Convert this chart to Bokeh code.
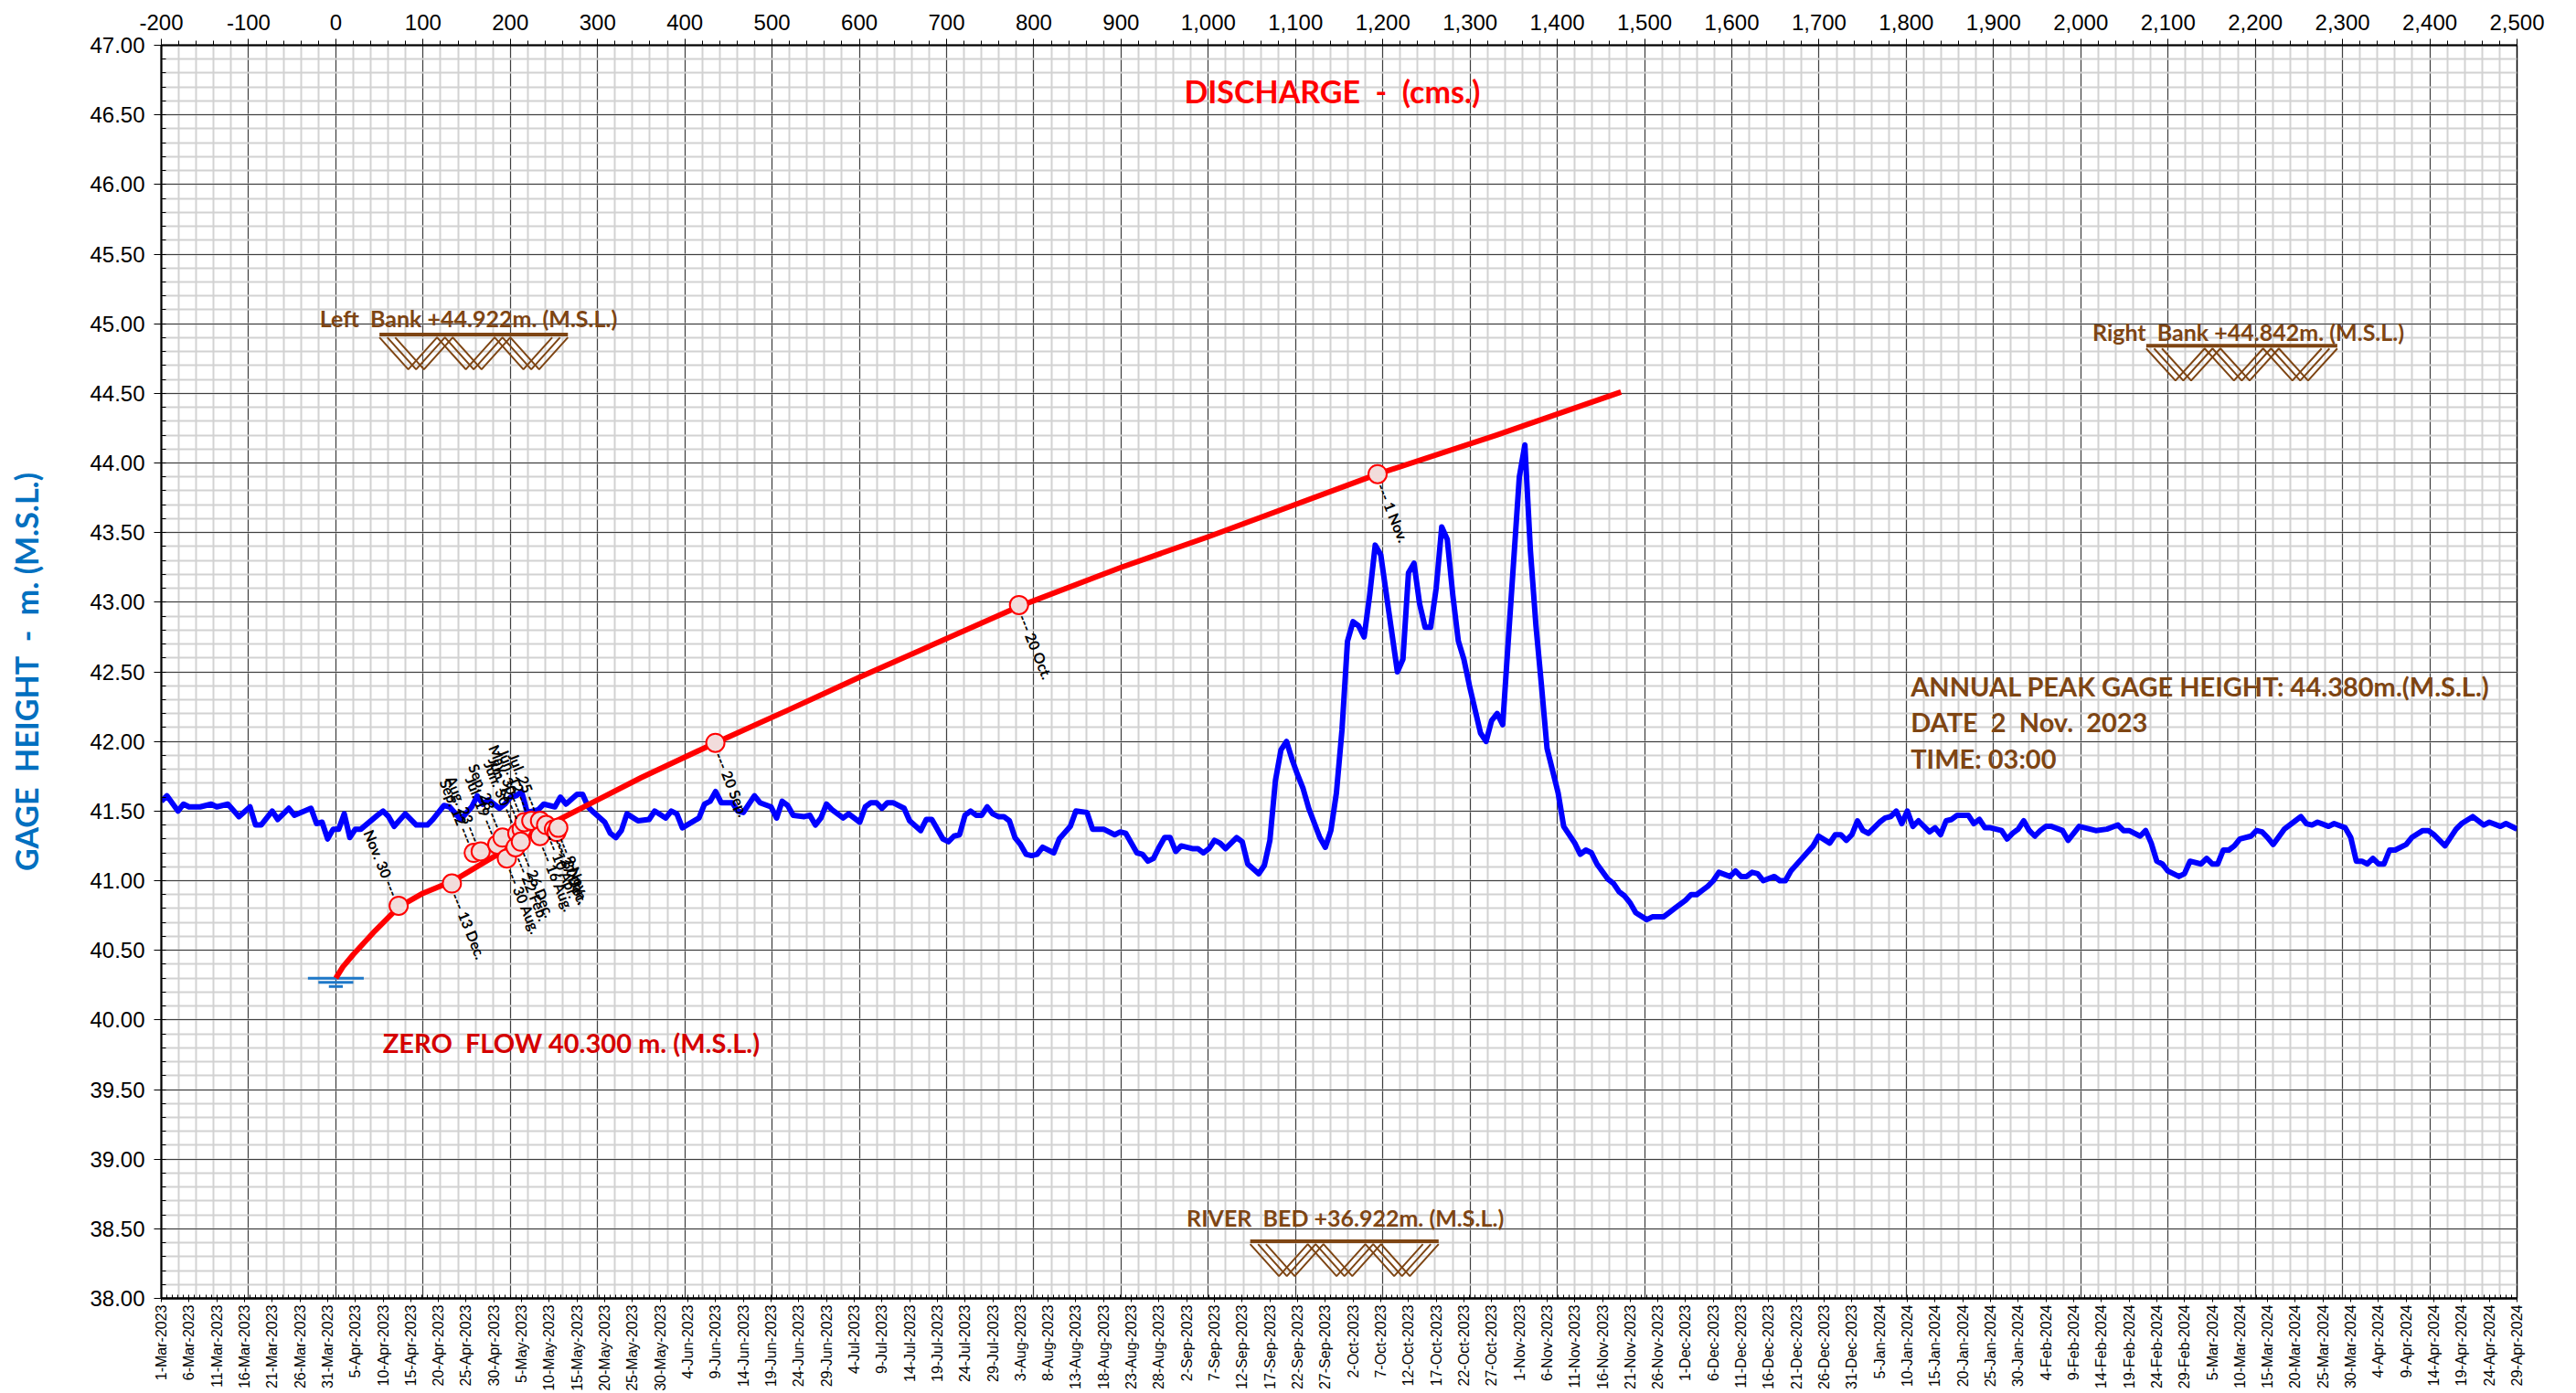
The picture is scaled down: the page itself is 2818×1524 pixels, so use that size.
import numpy as np
import pandas as pd
from bokeh.plotting import figure
from bokeh.models import (Range1d, LinearAxis, FixedTicker, NumeralTickFormatter,
                          PrintfTickFormatter, Label)
from bokeh.core.properties import value
from bokeh.embed import file_html
from bokeh.resources import INLINE

# ---------------- data ----------------
START_DATE = "2023-03-01"
N_DAYS = 425

# daily gage height (day offset from 1-Mar-2023, m M.S.L.)
gage_day = [0, 1, 3, 4, 5, 7, 9, 10, 12, 14, 16, 17, 18, 20, 21, 23, 24, 27, 28, 29, 30, 31, 32, 33, 34, 35, 36,
            39, 40, 41, 42, 44, 46, 48, 49, 51, 52, 54, 56, 57, 58, 59, 60, 61, 62, 63, 64, 65, 66, 68, 69, 71,
            72, 73, 75, 76, 77, 78, 80, 81, 82, 83, 84, 86, 88, 89, 91, 92, 93, 94, 97, 98, 99, 100, 101, 103,
            104, 105, 107, 108, 110, 111, 112, 113, 114, 116, 117, 118, 119, 120, 121, 123, 124, 126, 127, 128,
            129, 130, 131, 132, 134, 135, 137, 138, 139, 141, 142, 143, 144, 145, 146, 147, 148, 149, 150, 151,
            152, 153, 154, 155, 156, 157, 158, 159, 161, 162, 164, 165, 167, 168, 170, 172, 173, 174, 176, 177,
            178, 179, 180, 181, 182, 183, 184, 186, 187, 188, 189, 190, 191, 192, 194, 195, 196, 198, 199, 200,
            201, 202, 203, 204, 205, 206, 207, 209, 210, 211, 212, 213, 214, 215, 216, 217, 218, 219, 220, 223,
            224, 225, 226, 227, 228, 229, 230, 231, 232, 233, 234, 235, 236, 238, 239, 240, 241, 242, 243, 245,
            246, 247, 248, 249, 250, 252, 253, 255, 256, 257, 258, 259, 261, 262, 263, 264, 265, 266, 268, 269,
            271, 272, 273, 275, 276, 277, 278, 279, 280, 281, 283, 284, 285, 286, 287, 288, 289, 291, 292, 293,
            294, 296, 298, 299, 301, 302, 303, 304, 305, 306, 307, 308, 310, 311, 312, 313, 314, 315, 316, 317,
            319, 320, 321, 322, 323, 324, 325, 326, 327, 328, 329, 330, 332, 333, 334, 335, 336, 337, 338, 339,
            340, 341, 343, 344, 346, 348, 349, 351, 353, 354, 355, 357, 358, 359, 360, 361, 362, 364, 365, 366,
            368, 369, 370, 371, 372, 373, 374, 375, 377, 378, 379, 380, 381, 383, 385, 386, 387, 388, 389, 391,
            392, 394, 395, 396, 397, 398, 399, 400, 401, 402, 403, 405, 406, 408, 409, 410, 412, 414, 415, 417,
            419, 420, 422, 423, 425]
gage_h = [41.57, 41.61, 41.50, 41.55, 41.53, 41.53, 41.55, 41.53, 41.55, 41.46, 41.53, 41.40, 41.40, 41.50, 41.44,
          41.52, 41.47, 41.52, 41.41, 41.42, 41.30, 41.37, 41.37, 41.48, 41.31, 41.37, 41.37, 41.47, 41.50, 41.46,
          41.39, 41.48, 41.40, 41.40, 41.44, 41.54, 41.53, 41.44, 41.53, 41.61, 41.55, 41.58, 41.55, 41.52, 41.55,
          41.60, 41.61, 41.64, 41.49, 41.51, 41.55, 41.53, 41.60, 41.55, 41.62, 41.62, 41.53, 41.49, 41.42, 41.34,
          41.31, 41.36, 41.48, 41.43, 41.44, 41.50, 41.45, 41.50, 41.48, 41.38, 41.45, 41.55, 41.57, 41.64, 41.56,
          41.56, 41.50, 41.49, 41.61, 41.56, 41.53, 41.45, 41.57, 41.54, 41.47, 41.46, 41.47, 41.40, 41.45, 41.55,
          41.51, 41.45, 41.48, 41.42, 41.53, 41.56, 41.56, 41.52, 41.56, 41.56, 41.52, 41.43, 41.36, 41.44, 41.44,
          41.30, 41.28, 41.32, 41.33, 41.47, 41.50, 41.47, 41.47, 41.53, 41.48, 41.46, 41.46, 41.43, 41.31, 41.26,
          41.19, 41.18, 41.19, 41.24, 41.20, 41.30, 41.39, 41.50, 41.49, 41.37, 41.37, 41.33, 41.35, 41.34, 41.20,
          41.19, 41.14, 41.16, 41.24, 41.31, 41.31, 41.21, 41.25, 41.23, 41.23, 41.20, 41.23, 41.29, 41.27, 41.23,
          41.31, 41.28, 41.12, 41.05, 41.11, 41.29, 41.72, 41.94, 42.00, 41.87, 41.76, 41.66, 41.52, 41.31, 41.24,
          41.36, 41.63, 42.08, 42.72, 42.86, 42.83, 42.75, 43.05, 43.41, 43.34, 42.50, 42.59, 43.21, 43.28, 42.99,
          42.82, 42.82, 43.10, 43.54, 43.45, 43.05, 42.72, 42.59, 42.40, 42.06, 42.00, 42.15, 42.20, 42.12, 42.72,
          43.90, 44.13, 43.37, 42.83, 42.40, 41.95, 41.63, 41.39, 41.27, 41.19, 41.22, 41.20, 41.12, 41.01, 40.98,
          40.92, 40.89, 40.84, 40.77, 40.72, 40.74, 40.74, 40.77, 40.80, 40.86, 40.90, 40.90, 40.93, 40.96, 41.00,
          41.06, 41.03, 41.07, 41.03, 41.03, 41.06, 41.05, 41.00, 41.03, 41.00, 41.00, 41.07, 41.16, 41.25, 41.32,
          41.27, 41.33, 41.33, 41.29, 41.33, 41.43, 41.36, 41.34, 41.42, 41.45, 41.46, 41.50, 41.41, 41.50, 41.39,
          41.43, 41.35, 41.38, 41.33, 41.43, 41.44, 41.47, 41.47, 41.47, 41.41, 41.44, 41.38, 41.38, 41.36, 41.30,
          41.34, 41.37, 41.43, 41.36, 41.32, 41.36, 41.39, 41.39, 41.36, 41.29, 41.39, 41.37, 41.36, 41.37, 41.40,
          41.36, 41.36, 41.32, 41.36, 41.27, 41.14, 41.12, 41.07, 41.03, 41.05, 41.14, 41.12, 41.16, 41.12, 41.12,
          41.22, 41.22, 41.25, 41.30, 41.32, 41.36, 41.35, 41.31, 41.26, 41.37, 41.43, 41.46, 41.41, 41.40, 41.42,
          41.39, 41.41, 41.38, 41.31, 41.14, 41.14, 41.12, 41.16, 41.12, 41.12, 41.22, 41.22, 41.26, 41.31, 41.36,
          41.36, 41.33, 41.25, 41.37, 41.41, 41.46, 41.40, 41.42, 41.39, 41.41, 41.37]

# stage-discharge rating curve (cms, m)
rating_q = [0, 8, 20, 45, 72, 100, 135, 175, 250, 300, 350, 435, 520, 600, 783, 900, 1000, 1194, 1330, 1473]
rating_h = [40.30, 40.38, 40.47, 40.64, 40.81, 40.91, 41.00, 41.15, 41.42, 41.58, 41.74, 41.99, 42.23, 42.46,
            42.97, 43.25, 43.47, 43.92, 44.20, 44.51]

# discharge measurements
meas_q = [72, 133, 158, 166, 185, 191, 208, 213, 216, 224, 234, 196, 206, 212, 234, 241, 250, 253, 255, 435,
          783, 1194]
meas_h = [40.82, 40.98, 41.20, 41.21, 41.26, 41.31, 41.34, 41.37, 41.42, 41.43, 41.43, 41.16, 41.24, 41.28,
          41.32, 41.40, 41.37, 41.35, 41.38, 41.99, 42.98, 43.92]
meas_label = ["Nov. 30", "13 Dec.", "Sep. 12", "Aug. 23", "Jul. 19", "Sep. 28", "Jun. 30", "Jun. 13", "May. 30",
              "Jun. 12", "Jul. 25", "30 Aug.", "22 Feb.", "26 Dec.", "16 Aug.", "10 Apr.", "27 Dec.", "30 Jan.",
              "9 Nov.", "20 Sep.", "20 Oct.", "1 Nov."]
meas_side = ["L", "R", "L", "L", "L", "L", "L", "L", "L", "L", "L", "R", "R", "R", "R", "R", "R", "R", "R", "R",
             "R", "R"]

ZERO_FLOW = 40.300
LEFT_BANK = 44.922
RIGHT_BANK = 44.842
RIVER_BED = 36.922

discharge_ticks = list(range(-200, 2501, 100))
gage_ticks = [round(38 + 0.5 * i, 2) for i in range(19)]

NB = "\u00a0"  # keeps the double spaces of the original texts


def sp(s):
    return s.replace("  ", NB + NB)


# ---------------- figure ----------------
BROWN = "#7E4513"
p = figure(width=2818, height=1524, x_range=Range1d(-200, 2500), y_range=Range1d(38, 47),
           x_axis_location="above", output_backend="svg", toolbar_location=None,
           min_border_left=176, min_border_right=65, min_border_top=49, min_border_bottom=103,
           background_fill_color="white", border_fill_color="white",
           outline_line_color="black", outline_line_width=1.5)
p.extra_x_ranges = {"days": Range1d(0, N_DAYS)}

xa = p.xaxis[0]
xa.ticker = FixedTicker(ticks=discharge_ticks, minor_ticks=list(range(-200, 2501, 20)))
xa.formatter = NumeralTickFormatter(format="0,0")
xa.major_label_text_font = "Liberation Sans"
xa.major_label_text_font_size = "24px"
xa.major_label_text_color = "black"
xa.major_tick_out = 7
xa.major_tick_in = 0
xa.minor_tick_out = 5
xa.minor_tick_in = 0
xa.major_label_standoff = 10
xa.axis_line_width = 2
xa.major_tick_line_color = "black"
xa.minor_tick_line_color = "black"

ya = p.yaxis[0]
ya.ticker = FixedTicker(ticks=gage_ticks, minor_ticks=[round(38 + 0.1 * i, 1) for i in range(91)])
ya.formatter = PrintfTickFormatter(format="%.2f")
ya.major_label_text_font = "Liberation Sans"
ya.major_label_text_font_size = "24px"
ya.major_label_text_color = "black"
ya.major_tick_out = 8
ya.major_tick_in = 0
ya.minor_tick_out = 0
ya.minor_tick_in = 5
ya.major_label_standoff = 10
ya.axis_line_width = 2
ya.axis_label = sp("GAGE  HEIGHT  -  m. (M.S.L.)")
ya.axis_label_text_font = "Lato"
ya.axis_label_text_font_style = "bold"
ya.axis_label_text_font_size = "34px"
ya.axis_label_text_color = "#0070C0"
ya.axis_label_standoff = 46

for g in (p.xgrid[0], p.ygrid[0]):
    g.grid_line_color = "#404040"
    g.grid_line_width = 1
    g.minor_grid_line_color = "#d2d2d2"
    g.minor_grid_line_width = 2

dates = pd.date_range(START_DATE, periods=N_DAYS // 5 + 1, freq="5D")
date_labels = {int(5 * i): d.strftime("%-d-%b-%Y") for i, d in enumerate(dates)}
da = LinearAxis(x_range_name="days",
                ticker=FixedTicker(ticks=list(date_labels.keys()), minor_ticks=list(range(0, N_DAYS + 1))),
                major_label_overrides=date_labels, major_label_orientation=np.pi / 2)
da.major_label_text_font = "Liberation Sans"
da.major_label_text_font_size = "16px"
da.major_label_text_color = "black"
da.major_tick_out = 4
da.major_tick_in = 0
da.minor_tick_in = 4
da.minor_tick_out = 0
da.major_label_standoff = 3
da.axis_line_width = 2.5
p.add_layout(da, "below")


# ---------------- decorations: bank / bed symbols ----------------
def bank_symbol(x0, x1, y0, depth, copies=3, shift=9):
    bars = ([x0, x1], [y0, y0])
    d = (x1 - x0 - (copies - 1) * shift) / 3.0
    xs, ys = [], []
    for c in range(copies):
        xx = [x0 + c * shift + k * d / 2.0 for k in range(7)]
        yy = [y0 - 0.02 if k % 2 == 0 else y0 - depth for k in range(7)]
        xs.append(xx)
        ys.append(yy)
    return bars, xs, ys


for (x0, x1, y0) in [(50, 266, LEFT_BANK), (2075, 2294, RIGHT_BANK), (1048, 1264, 38.41)]:
    bar, xs, ys = bank_symbol(x0, x1, y0, 0.25)
    p.line(bar[0], bar[1], line_color=BROWN, line_width=4)
    p.multi_line(xs, ys, line_color=BROWN, line_width=2)

# zero-flow water symbol
p.line([-32, 32], [ZERO_FLOW, ZERO_FLOW], line_color="#1E78C8", line_width=3)
p.line([-20, 20], [ZERO_FLOW - 0.03, ZERO_FLOW - 0.03], line_color="#1E78C8", line_width=3)
p.line([-8, 8], [ZERO_FLOW - 0.06, ZERO_FLOW - 0.06], line_color="#1E78C8", line_width=3)

# ---------------- series ----------------
p.line(gage_day, gage_h, x_range_name="days", line_color="#0000FF", line_width=6, line_join="round")
p.line(rating_q, rating_h, line_color="#FF0000", line_width=6, line_join="round")
p.scatter(meas_q, meas_h, size=20, fill_color="#F2DCDB", line_color="#FF0000", line_width=2)

ang = -np.deg2rad(68)
lq = [q for q, s in zip(meas_q, meas_side) if s == "L"]
lh = [h for h, s in zip(meas_h, meas_side) if s == "L"]
lt = [t + " ---" for t, s in zip(meas_label, meas_side) if s == "L"]
rq = [q for q, s in zip(meas_q, meas_side) if s == "R"]
rh = [h for h, s in zip(meas_h, meas_side) if s == "R"]
rt = ["--- " + t for t, s in zip(meas_label, meas_side) if s == "R"]
p.text(lq, lh, text=lt, angle=ang, text_align="right", text_baseline="middle", x_offset=-4, y_offset=-11,
       text_font=value("Lato"), text_font_size="16px", text_font_style="bold", text_color="black")
p.text(rq, rh, text=rt, angle=ang, text_align="left", text_baseline="middle", x_offset=4, y_offset=11,
       text_font=value("Lato"), text_font_size="16px", text_font_style="bold", text_color="black")


# ---------------- annotations ----------------
def add_label(x, y, text, color, size, align="left"):
    p.add_layout(Label(x=x, y=y, text=sp(text), text_align=align, text_baseline="middle",
                       text_font="Lato", text_font_style="bold", text_font_size=size, text_color=color))


add_label(1142, 46.67, "DISCHARGE  -  (cms.)", "#FF0000", "34px", "center")
add_label(152, 45.04, "Left  Bank +%.3fm. (M.S.L.)" % LEFT_BANK, BROWN, "25px", "center")
add_label(2192, 44.94, "Right  Bank +%.3fm. (M.S.L.)" % RIGHT_BANK, BROWN, "25px", "center")
add_label(1157, 38.58, "RIVER  BED +%.3fm. (M.S.L.)" % RIVER_BED, BROWN, "25px", "center")
add_label(270, 39.84, "ZERO  FLOW %.3f m. (M.S.L.)" % ZERO_FLOW, "#D40000", "29px", "center")
add_label(1805, 42.40, "ANNUAL PEAK GAGE HEIGHT: 44.380m.(M.S.L.)", BROWN, "29px")
add_label(1805, 42.14, "DATE  2  Nov.  2023", BROWN, "29px")
add_label(1805, 41.88, "TIME: 03:00", BROWN, "29px")

open("out.html", "w").write(file_html(p, INLINE))
